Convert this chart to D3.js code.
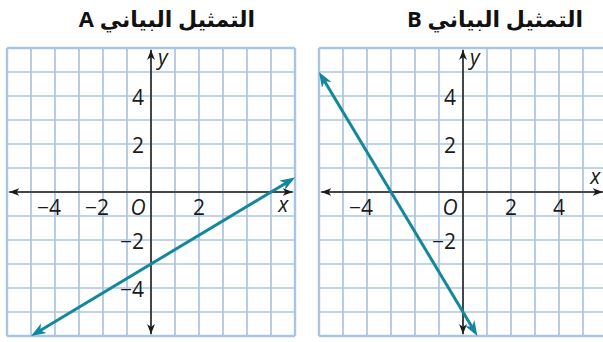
<!DOCTYPE html>
<html>
<head>
<meta charset="utf-8">
<script src="https://cdn.jsdelivr.net/npm/d3@7"></script>
<style>
  body { margin: 0; background: #fff; }
  svg { display: block; }
  .lbl { font-family: "Open Sans", "DejaVu Sans", sans-serif; font-size: 21px; fill: #1a1a1a; }
  .ital { font-style: italic; }
  .title { font-family: "Open Sans", "DejaVu Sans", sans-serif; font-weight: bold; font-size: 22px; fill: #111; }
</style>
</head>
<body>
<svg id="chart" width="603" height="342"></svg>
<script>
// ---- data ----
const titles = ["التمثيل البياني A", "التمثيل البياني B"];
const gridDomain = [-6, 6];
const xTicksA = [-4, -2, 2];
const yTicksA = [4, 2, -2, -4];
const xTicksB = [-4, 2, 4];
const yTicksB = [4, 2, -2];
// line endpoints (arrow tips): A is y = 3/5 x - 3, B is y = -5/3 x - 5
const lineA = [[-5, -6], [6, 0.6]];
const lineB = [[-6, 5], [0.6, -6]];
const axisXExtA = [-5.9, 5.9];
const axisXExtB = [-5.9, 5.82];
const axisYExt = [-5.92, 5.92];

const GRID = "#abc4e1";
const TEAL = "#13879e";
const AXIS = "#1a1a1a";

const svg = d3.select("#chart");
const defs = svg.append("defs");

function marker(id, color, len, wid) {
  defs.append("marker")
    .attr("id", id)
    .attr("markerUnits", "userSpaceOnUse")
    .attr("viewBox", `${-len} ${-wid} ${len + 1} ${wid * 2}`)
    .attr("refX", 0).attr("refY", 0)
    .attr("markerWidth", len + 1).attr("markerHeight", wid * 2)
    .attr("orient", "auto-start-reverse")
    .append("path")
    .attr("d", `M0,0 L${-len},${-wid / 2} L${-len * 0.72},0 L${-len},${wid / 2} Z`)
    .attr("fill", color);
}
marker("arrTeal", TEAL, 15, 11);
marker("arrAxis", AXIS, 10, 8);

const panels = [
  { left: 7, title: titles[0], titleX: 167, xTicks: xTicksA, yTicks: yTicksA, line: lineA, axX: axisXExtA, xLabelBelow: true },
  { left: 319, title: titles[1], titleX: 495, xTicks: xTicksB, yTicks: yTicksB, line: lineB, axX: axisXExtB, xLabelBelow: false }
];

const size = 288, gridTop = 48;

panels.forEach(p => {
  const x = d3.scaleLinear().domain(gridDomain).range([p.left, p.left + size]);
  const y = d3.scaleLinear().domain(gridDomain).range([gridTop + size, gridTop]);
  const g = svg.append("g");

  // title (right-to-left)
  g.append("text").attr("class", "title")
    .attr("x", p.titleX).attr("y", 27)
    .attr("text-anchor", "middle")
    .attr("direction", "rtl")
    .text(p.title);

  // grid
  const units = d3.range(gridDomain[0], gridDomain[1] + 1);
  g.selectAll(".vg").data(units).join("line")
    .attr("x1", d => x(d)).attr("x2", d => x(d))
    .attr("y1", y(6)).attr("y2", y(-6))
    .attr("stroke", GRID).attr("stroke-width", d => Math.abs(d) === 6 ? 2.4 : 1.7);
  g.selectAll(".hg").data(units).join("line")
    .attr("y1", d => y(d)).attr("y2", d => y(d))
    .attr("x1", x(-6)).attr("x2", x(6))
    .attr("stroke", GRID).attr("stroke-width", d => Math.abs(d) === 6 ? 2.4 : 1.7);

  // axes
  g.append("line")
    .attr("x1", x(p.axX[0])).attr("x2", x(p.axX[1]))
    .attr("y1", y(0)).attr("y2", y(0))
    .attr("stroke", AXIS).attr("stroke-width", 1.5)
    .attr("marker-start", "url(#arrAxis)").attr("marker-end", "url(#arrAxis)");
  g.append("line")
    .attr("x1", x(0)).attr("x2", x(0))
    .attr("y1", y(axisYExt[0])).attr("y2", y(axisYExt[1]))
    .attr("stroke", AXIS).attr("stroke-width", 1.5)
    .attr("marker-start", "url(#arrAxis)").attr("marker-end", "url(#arrAxis)");

  // tick labels
  g.selectAll(".xl").data(p.xTicks).join("text")
    .attr("class", "lbl")
    .attr("x", d => d < 0 ? x(d) + 6 : x(d))
    .attr("y", y(0) + 23)
    .attr("text-anchor", d => d < 0 ? "end" : "middle")
    .text(d => d < 0 ? "\u2212" + Math.abs(d) : d);
  g.selectAll(".yl").data(p.yTicks).join("text")
    .attr("class", "lbl")
    .attr("x", x(0) - 7)
    .attr("y", d => y(d) + 8.5)
    .attr("text-anchor", "end")
    .text(d => d < 0 ? "\u2212" + Math.abs(d) : d);

  g.append("text").attr("class", "lbl ital")
    .attr("x", x(0) - 13).attr("y", y(0) + 23)
    .attr("text-anchor", "middle").text("O");
  g.append("text").attr("class", "lbl ital")
    .attr("x", x(0) + 7).attr("y", y(6) + 17)
    .text("y");
  g.append("text").attr("class", "lbl ital")
    .attr("x", x(5.3)).attr("y", p.xLabelBelow ? y(0) + 20 : y(0) - 8)
    .text("x");

  // the graphed line, shortened a little so the arrow tips stay sharp
  const p0 = [x(p.line[0][0]), y(p.line[0][1])];
  const p1 = [x(p.line[1][0]), y(p.line[1][1])];
  const dx = p1[0] - p0[0], dy = p1[1] - p0[1];
  const len = Math.hypot(dx, dy), k = 5 / len;
  g.append("line")
    .attr("x1", p0[0] + dx * k).attr("y1", p0[1] + dy * k)
    .attr("x2", p1[0] - dx * k).attr("y2", p1[1] - dy * k)
    .attr("stroke", TEAL).attr("stroke-width", 3);
  g.append("line")
    .attr("x1", p0[0]).attr("y1", p0[1])
    .attr("x2", p1[0]).attr("y2", p1[1])
    .attr("stroke", "none")
    .attr("marker-start", "url(#arrTeal)").attr("marker-end", "url(#arrTeal)");
});
</script>
</body>
</html>
